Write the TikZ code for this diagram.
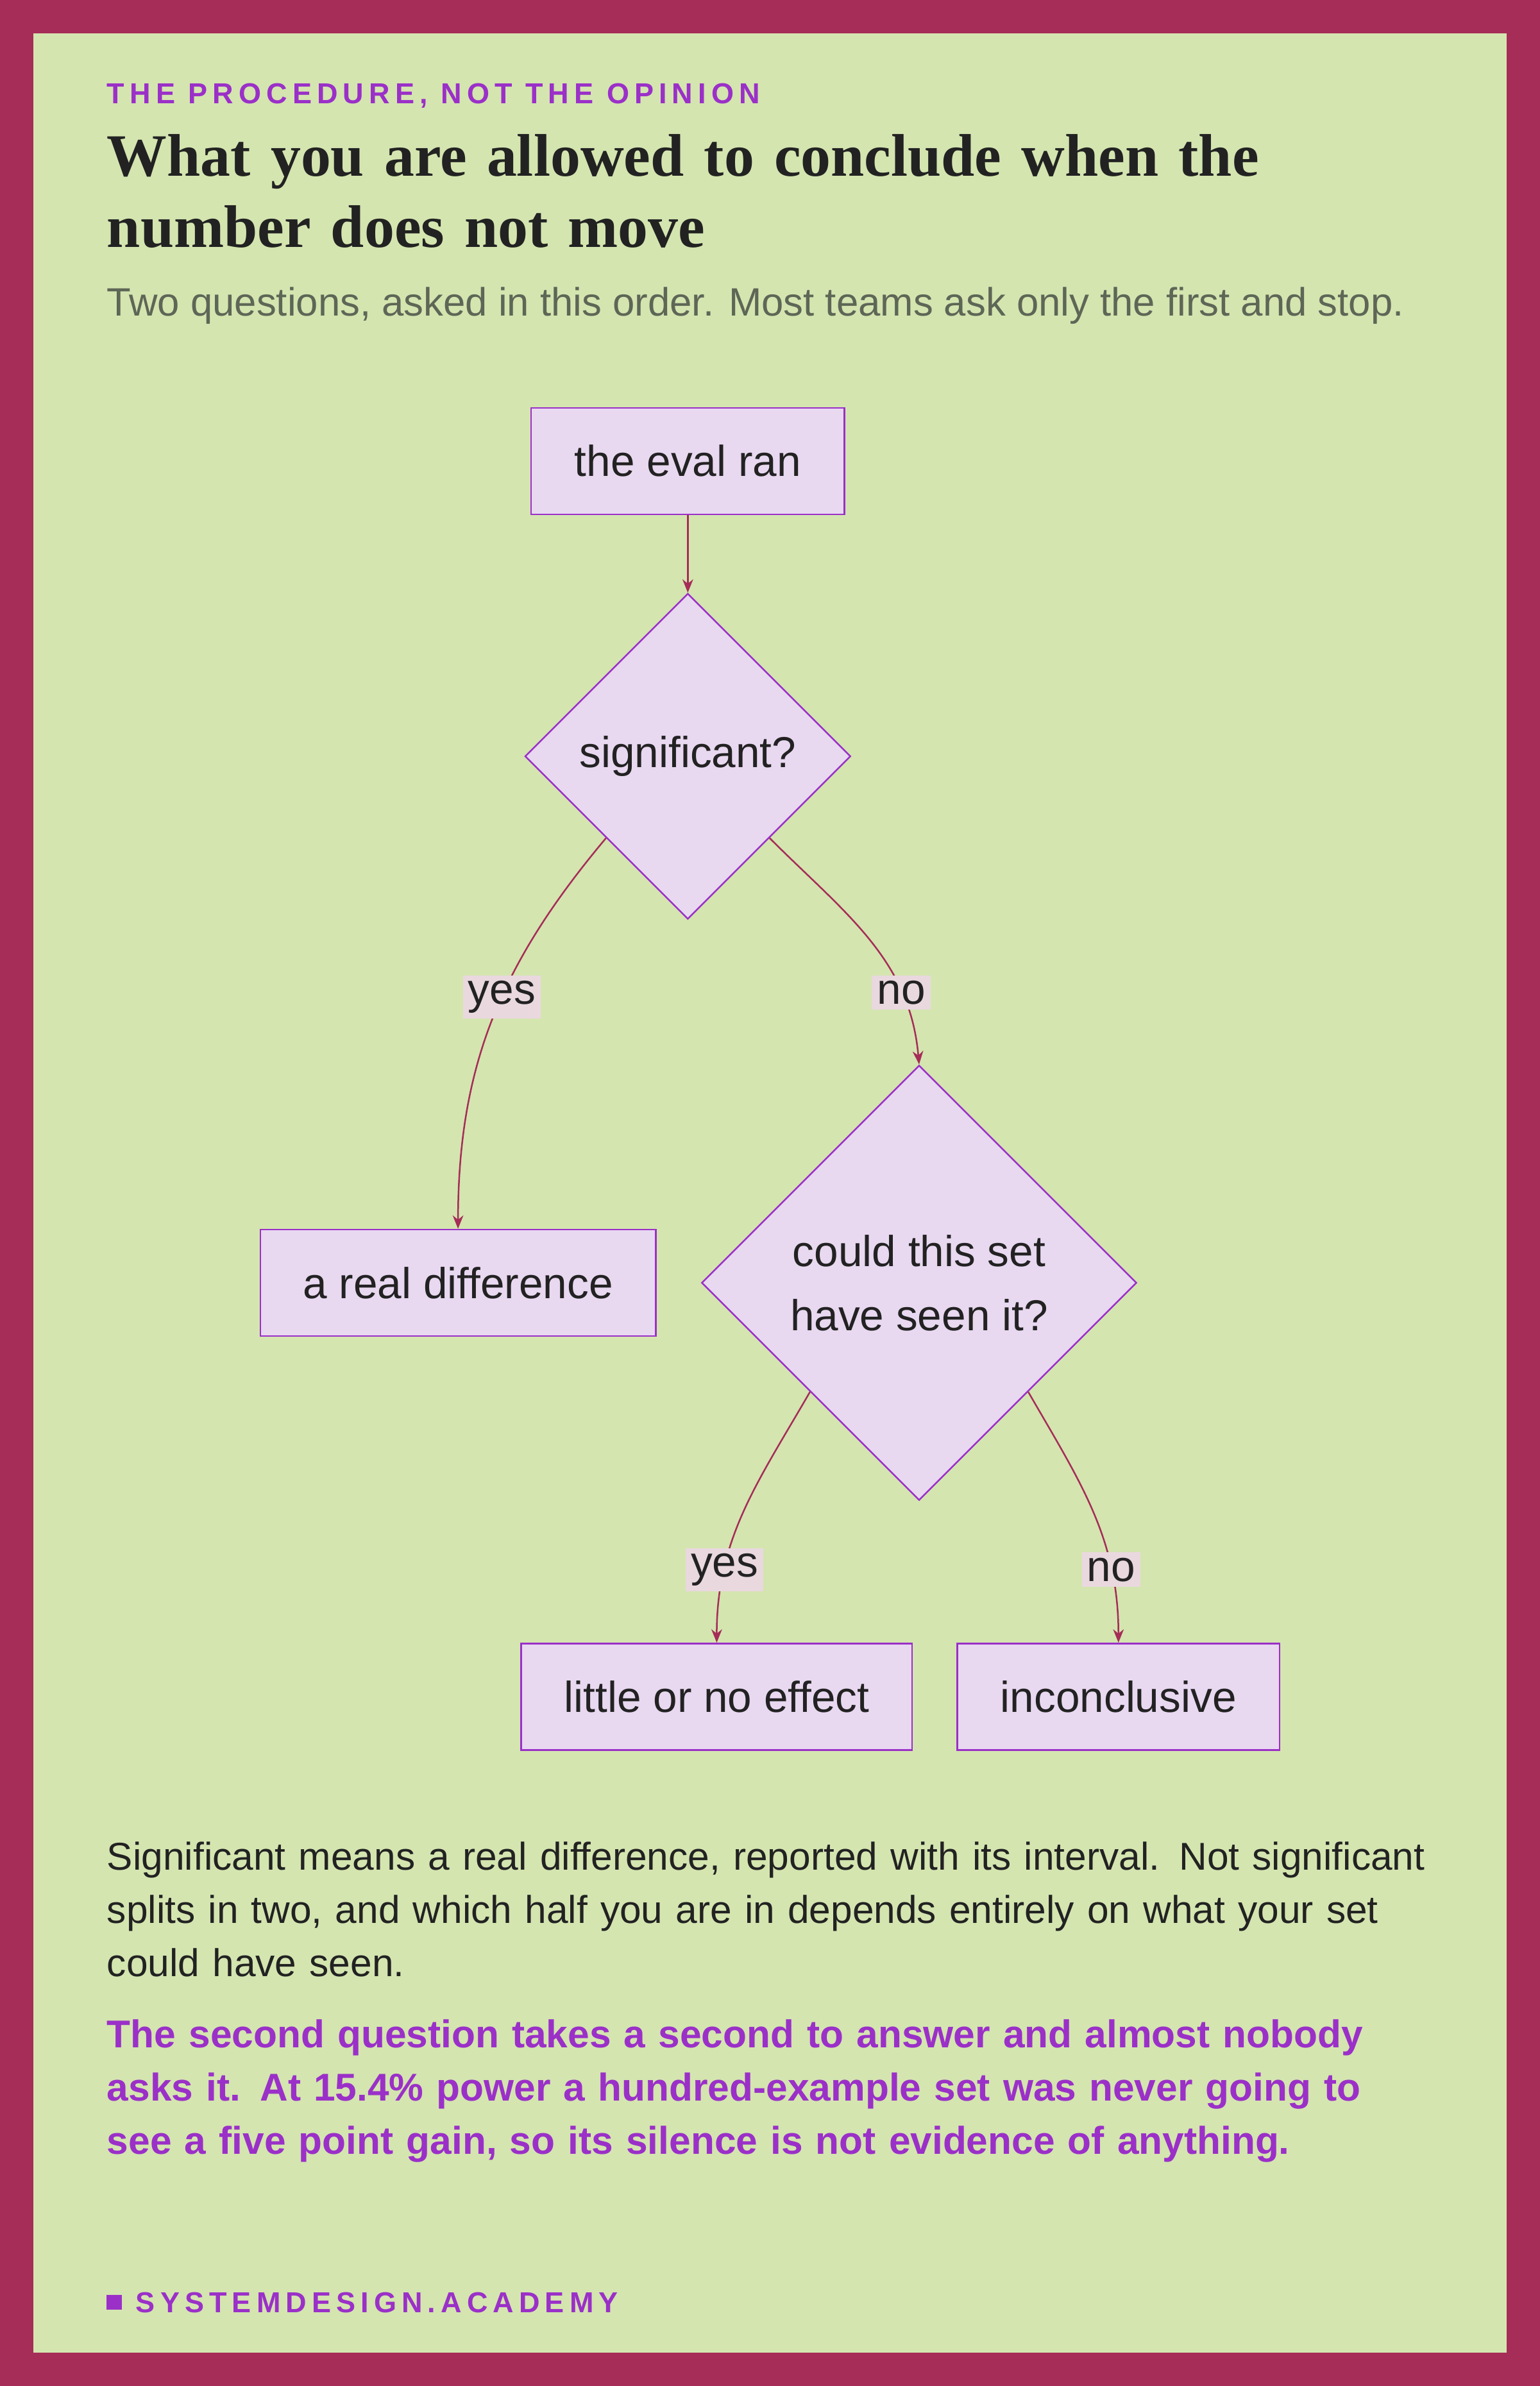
\documentclass[tikz,border=0pt]{standalone}
\usepackage{fontspec}
\setmainfont{Liberation Sans}
\newfontfamily\titlefont{Liberation Serif}
\usetikzlibrary{positioning,shapes.geometric,arrows.meta}
\definecolor{frame}{HTML}{A52D57}
\definecolor{paper}{HTML}{D4E5B0}
\definecolor{accent}{HTML}{9B30C8}
\definecolor{boxfill}{HTML}{E8D8F0}
\definecolor{tagfill}{HTML}{EAD8DF}
\definecolor{ink}{HTML}{222222}
\definecolor{muted}{HTML}{5E6656}
\begin{document}
\begin{tikzpicture}[x=0.02cm,y=-0.02cm,
  every node/.style={inner sep=0pt},
  stage/.style={draw=accent,fill=boxfill,line width=0.6pt,minimum height=1.4cm,
    font=\fontsize{16.2}{18}\selectfont,text=ink},
  ask/.style={draw=accent,fill=boxfill,line width=0.6pt,diamond,aspect=1,
    font=\fontsize{16.2}{24}\selectfont,text=ink,align=center},
  tag/.style={fill=tagfill,inner sep=2pt,font=\fontsize{16.2}{18}\selectfont,text=ink},
  flow/.style={draw=frame,line width=0.6pt,-{Stealth[length=5pt,width=4pt]}},
  para/.style={anchor=north west,align=left,inner sep=0pt}]
% frame
\fill[frame] (0,0) rectangle (1012,1568);
\fill[paper] (22,22) rectangle (990,1546);
% heading
\node[anchor=west,text=accent,font=\bfseries\fontsize{10.8}{13}\selectfont] (kicker) at (70,63)
  {\addfontfeatures{LetterSpace=18}THE PROCEDURE, NOT THE OPINION};
\node[para,text width=18.5cm,text=ink,font=\titlefont\bfseries\fontsize{22.5}{26.7}\selectfont] (title) at (70,88)
  {What you are allowed to conclude when the\\number does not move};
\node[anchor=west,text=muted,font=\fontsize{14.8}{16}\selectfont] (sub) at (70,201)
  {Two questions, asked in this order. Most teams ask only the first and stop.};
% flow
\node[stage,minimum width=4.12cm] (ran) at (452,303) {the eval ran};
\node[ask,minimum size=4.28cm] (sig) at (452,497) {significant?};
\node[stage,minimum width=5.2cm] (real) at (301,843) {a real difference};
\node[ask,minimum size=5.72cm] (seen) at (604,843) {could this set\\have seen it?};
\node[stage,minimum width=5.14cm] (little) at (471,1115) {little or no effect};
\node[stage,minimum width=4.24cm] (incon) at (735,1115) {inconclusive};
\draw[flow] (ran) -- (sig);
\draw[flow] (sig.south west) to[out=-130,in=90] node[tag,pos=0.44] {yes} (real.north);
\draw[flow] (sig.south east) to[out=-45,in=95] node[tag,pos=0.74] {no} (seen.north);
\draw[flow] (seen.south west) to[out=-120,in=90] node[tag,pos=0.74] {yes} (little.north);
\draw[flow] (seen.south east) to[out=-60,in=90] node[tag,pos=0.74] {no} (incon.north);
% notes
\node[para,text width=17.5cm,text=ink,font=\fontsize{14.5}{19.9}\selectfont] (note) at (70,1210)
  {Significant means a real difference, reported with its interval. Not significant splits in two, and which half you are in depends entirely on what your set could have seen.};
\node[para,text width=16.9cm,text=accent,font=\bfseries\fontsize{14.5}{19.9}\selectfont] (punch) at (70,1327)
  {The second question takes a second to answer and almost nobody asks it. At 15.4\% power a hundred-example set was never going to see a five point gain, so its silence is not evidence of anything.};
% footer
\fill[accent] (70,1508) rectangle (80,1518);
\node[anchor=west,text=accent,font=\bfseries\fontsize{10.8}{13}\selectfont] (site) at (89,1513)
  {\addfontfeatures{LetterSpace=18}SYSTEMDESIGN.ACADEMY};
\end{tikzpicture}
\end{document}
